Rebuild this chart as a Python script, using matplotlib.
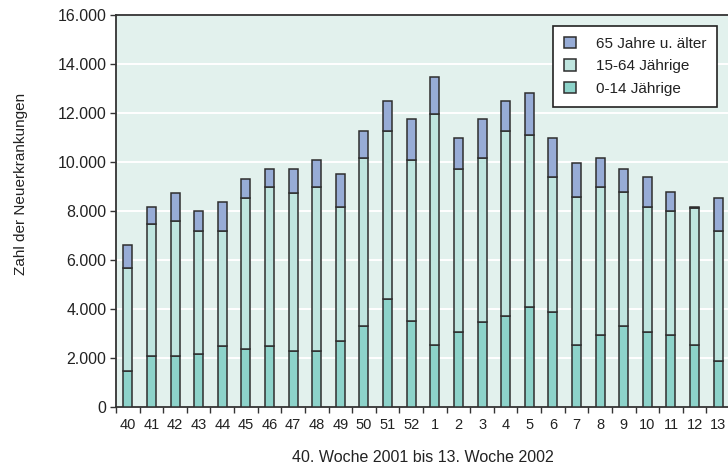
import matplotlib
matplotlib.use("Agg")
import matplotlib.pyplot as plt
from matplotlib.ticker import FuncFormatter, FixedLocator
import numpy as np

weeks = ["40", "41", "42", "43", "44", "45", "46", "47", "48", "49", "50", "51", "52",
         "1", "2", "3", "4", "5", "6", "7", "8", "9", "10", "11", "12", "13"]
# cumulative levels per week
age_0_14 = [1480, 2080, 2080, 2150, 2490, 2370, 2490, 2300, 2300, 2690, 3290, 4410, 3500,
            2540, 3070, 3470, 3730, 4080, 3890, 2540, 2950, 3290, 3070, 2950, 2540, 1880]
top_15_64 = [5660, 7460, 7600, 7200, 7200, 8520, 8970, 8720, 8970, 8180, 10150, 11280, 10080,
             11960, 9710, 10150, 11280, 11100, 9370, 8580, 8970, 8780, 8180, 8000, 8110, 7200]
total = [6600, 8180, 8720, 8000, 8370, 9310, 9710, 9710, 10090, 9510, 11280, 12490, 11770,
         13480, 10990, 11770, 12490, 12820, 10980, 9970, 10160, 9710, 9370, 8780, 8180, 8520]

age_15_64 = [m - y for m, y in zip(top_15_64, age_0_14)]
age_65 = [t - m for t, m in zip(total, top_15_64)]

c_young = "#8dd3ca"
c_mid = "#bfe5df"
c_old = "#97acd6"
edge = "#2e2e2e"

plt.rcParams["font.family"] = ["Liberation Sans Narrow", "Liberation Sans", "DejaVu Sans"]

fig = plt.figure(figsize=(7.28, 4.69), dpi=100)
ax = fig.add_axes([116 / 728, 62 / 469, 614 / 728, 392 / 469])
ax.set_facecolor("#e2f1ed")

x = np.arange(len(weeks))
w = 0.38
b1 = ax.bar(x, age_0_14, w, color=c_young, edgecolor=edge, linewidth=1.1, zorder=3)
b2 = ax.bar(x, age_15_64, w, bottom=age_0_14, color=c_mid, edgecolor=edge, linewidth=1.1, zorder=3)
b3 = ax.bar(x, age_65, w, bottom=top_15_64, color=c_old, edgecolor=edge, linewidth=1.1, zorder=3)

ax.set_xlim(-0.5, len(weeks) - 0.5)
ax.set_ylim(0, 16000)
ax.set_yticks(np.arange(0, 16001, 2000))
ax.yaxis.set_major_formatter(FuncFormatter(lambda v, p: f"{int(v):,}".replace(",", ".")))
ax.grid(axis="y", color="white", linewidth=1.4, zorder=1)

ax.set_xticks(x)
ax.set_xticklabels(weeks)
ax.tick_params(axis="x", which="major", length=0, pad=8, labelsize=10.5, colors="#222222")
ax.xaxis.set_minor_locator(FixedLocator(np.arange(-0.5, len(weeks), 1.0)))
ax.tick_params(axis="x", which="minor", length=4, width=1, color="#333333", direction="out")
ax.tick_params(axis="y", length=4, width=1, color="#333333", direction="out",
               labelsize=11.5, colors="#222222", pad=3)

for s in ["left", "bottom", "top"]:
    ax.spines[s].set_color("#333333")
    ax.spines[s].set_linewidth(1.3)
ax.spines["right"].set_visible(False)

ax.set_ylabel("Zahl der Neuerkrankungen", fontsize=11, color="#222222")
ax.yaxis.set_label_coords(-88 / 614, 0.57)
ax.set_xlabel("40. Woche 2001 bis 13. Woche 2002", fontsize=11.5, color="#222222", labelpad=13)

leg = ax.legend([b3, b2, b1], ["65 Jahre u. älter", "15-64 Jährige", "0-14 Jährige"],
                loc="upper left", bbox_to_anchor=(437 / 614, 1 - 11 / 392),
                fontsize=11, frameon=True, fancybox=False, framealpha=1,
                edgecolor="#222222", handlelength=0.8, handleheight=0.8,
                handletextpad=1.3, borderpad=0.7, labelspacing=0.55, borderaxespad=0)
leg.get_frame().set_linewidth(1.2)
for t in leg.get_texts():
    t.set_color("#222222")

fig.savefig("out.png", dpi=100)
